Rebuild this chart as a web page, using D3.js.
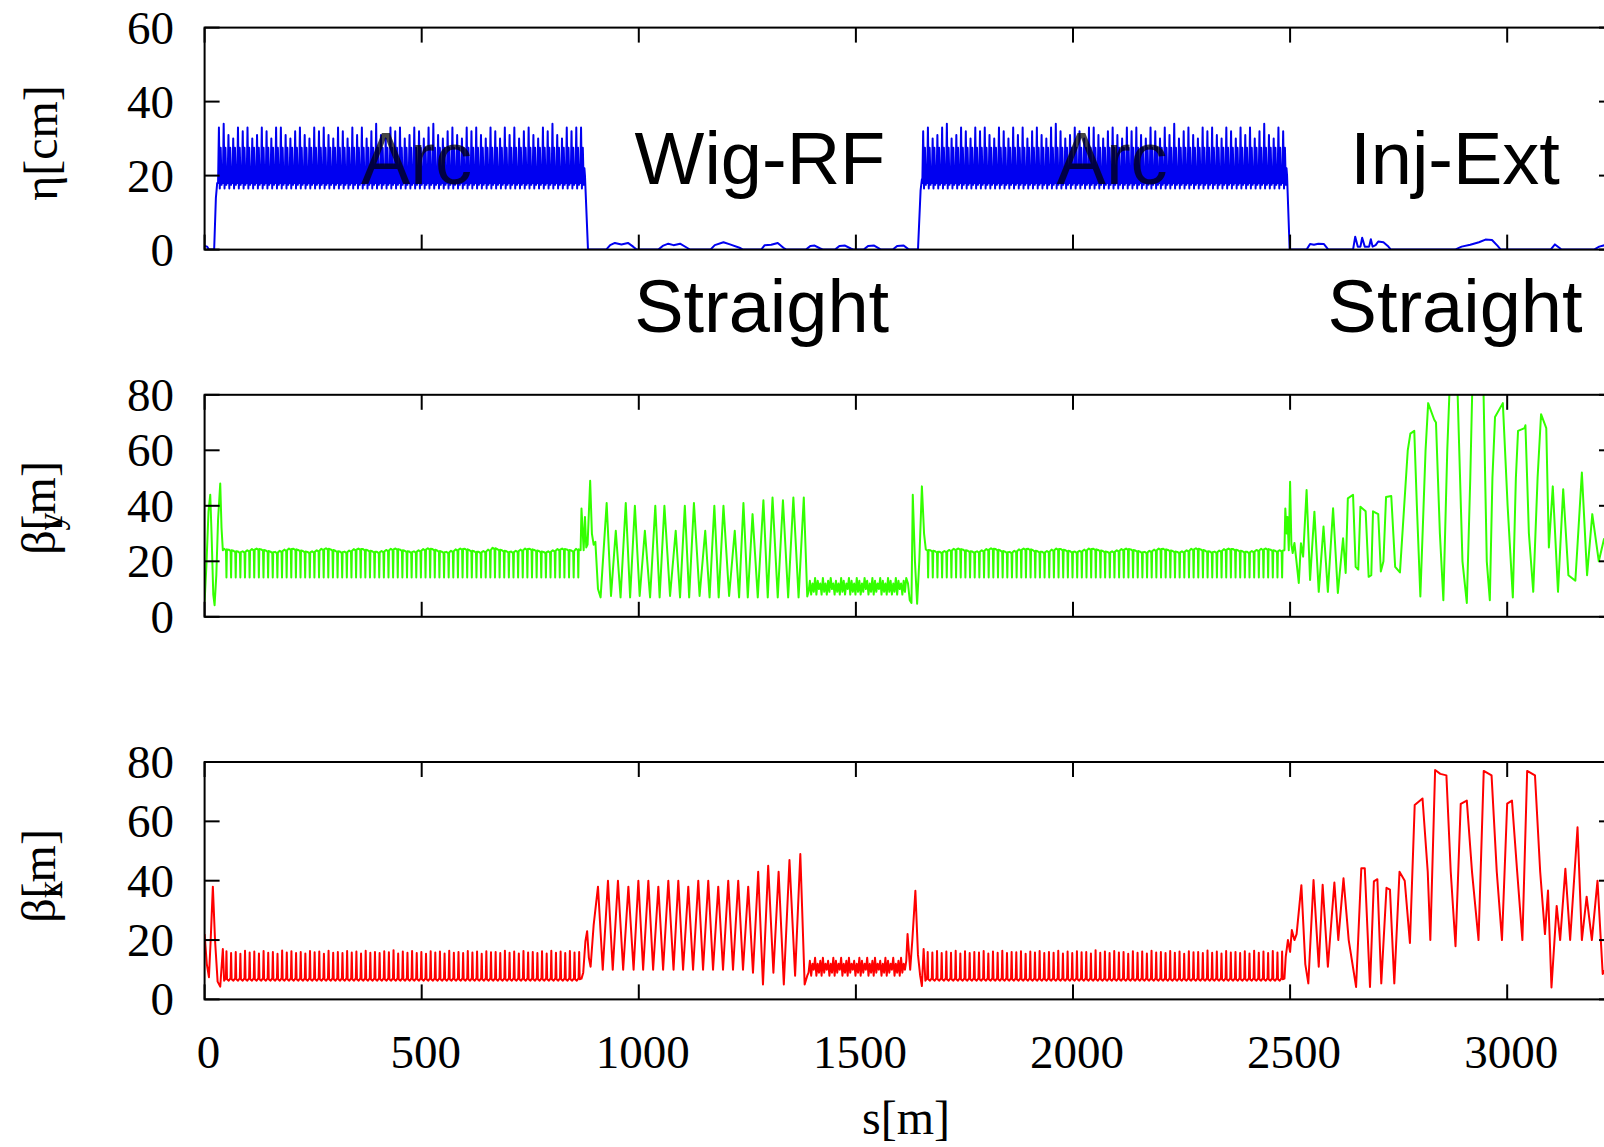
<!DOCTYPE html>
<html>
<head>
<meta charset="utf-8">
<script src="https://cdn.jsdelivr.net/npm/d3@7"></script>
<style>
  html, body { margin: 0; padding: 0; background: #fff; }
  svg { display: block; }
</style>
</head>
<body>
<script>
// ---------------- data: lattice functions along the ring ----------------
const sTicks = [0, 500, 1000, 1500, 2000, 2500, 3000];
const etaTicks = [0, 20, 40, 60];
const betaTicks = [0, 20, 40, 60, 80];

// arc extents [start, end] in metres
const etaArcRange1 = [31, 876], etaArcRange2 = [1653, 2493];
const byArcRange1 = [45, 866], byArcRange2 = [1661, 2487];
const bxArcRange1 = [45, 868], bxArcRange2 = [1660, 2487];

// dispersion peak per arc cell [cm]
const etaArc1Peak = [33,34,31,30,33,32,33,30,31,33, 32,30,33,33,31,30,32,33,31,30,
  33,32,33,31,30,33,32,30,33,31, 33,30,32,34,31,30,33,32,33,30, 31,33,32,30,33,34,31,30,32,33,
  31,30,33,32,33,31,30,33,32,30, 33,31,33,30,32,33,31,30,33,32, 34,31,30,33,32,33,33];
const etaArc2Peak = [32,33,30,31,33,34,30,31,33,32, 30,33,32,33,31,30,33,32,30,33,
  31,33,30,32,33,31,30,33,34,32, 30,31,33,32,30,33,33,31,30,32, 33,31,30,33,32,33,31,30,33,32,
  30,33,31,34,30,32,33,31,30,33, 32,33,31,30,33,32,30,33,31,33, 30,32,34,31,30,33,32];
// dispersion levels inside each cell [low, trough, shoulder, trough, tail]
const etaCellLevels = [18, 16.5, 27.5, 17.5, 22];

// vertical beta plateau per arc cell [m]
const byArc1Top = [24.5,24.2,23.8,23.5,23.6,24.0,24.4,24.6,24.3,23.9, 23.5,23.4,23.8,24.2,24.6,24.5,24.1,23.7,23.4,23.6,
  24.0,24.5,24.7,24.3,23.8,23.5,23.5,23.9,24.4,24.6, 24.4,24.0,23.6,23.4,23.7,24.1,24.5,24.6,24.2,23.8,
  23.5,23.6,24.0,24.4,24.7,24.4,23.9,23.5,23.4,23.8, 24.3,24.6,24.5,24.0,23.6,23.4,23.7,24.2,24.9,24.4,
  24.0,23.6,23.5,23.8,24.2,24.6,24.5,24.1,23.7,23.4, 23.6,24.0,24.4,24.6,24.3,23.9,24.5];
const byArc2Top = [24.3,24.0,23.6,23.4,23.7,24.1,24.5,24.6,24.2,23.8, 23.5,23.6,24.0,24.4,24.7,24.4,23.9,23.5,23.4,23.8,
  24.3,24.6,24.5,24.0,23.6,23.4,23.7,24.2,24.6,24.4, 24.0,23.6,23.5,23.8,24.2,24.6,24.5,24.1,23.7,23.4,
  23.6,24.0,24.4,24.6,24.3,23.9,23.5,23.4,23.8,24.2, 24.6,24.5,24.1,23.7,23.4,23.6,24.0,24.5,24.7,24.3,
  23.8,23.5,23.5,23.9,24.4,24.6,24.4,24.0,23.6,23.4, 23.7,24.1,24.5,24.6,24.2,23.8,24.0];
const byCellDip = 14.2;

// horizontal beta peak per arc cell [m]
const bxArc1Peak = [16.2,15.6,16.0,15.4,16.4,15.8,16.1,15.5,16.3,15.7, 16.0,15.4,16.5,15.8,16.2,15.6,16.0,15.5,16.3,15.9,
  16.1,15.4,16.4,15.7,16.0,15.6,16.3,15.8,16.1,15.5, 16.4,15.7,16.0,15.6,16.2,15.9,16.6,15.5,16.1,15.7,
  16.3,15.6,16.0,15.4,16.2,15.8,16.1,15.5,16.4,15.7, 16.0,15.6,16.3,15.8,16.1,15.4,16.2,15.9,16.0,15.6,
  16.4,15.7,16.1,15.5,16.3,15.8,16.0,15.6,16.2,15.5, 16.4,15.7,16.1,15.6,16.3,15.8,16.0];
const bxArc2Peak = [16.0,15.8,16.3,15.6,16.1,15.7,16.4,15.5,16.2,15.6, 16.0,15.8,16.3,15.5,16.1,15.7,16.4,15.6,16.0,15.9,
  16.2,15.4,16.1,15.8,16.3,15.6,16.0,15.7,16.4,15.5, 16.1,15.6,16.2,15.9,16.0,15.5,16.6,15.7,16.1,15.6,
  16.3,15.8,16.0,15.4,16.2,15.7,16.1,15.5,16.4,15.8, 16.0,15.6,16.3,15.7,16.1,15.4,16.2,15.9,16.0,15.6,
  16.5,15.7,16.1,15.5,16.3,15.8,16.0,15.6,16.2,15.5, 16.4,15.7,16.1,15.6,16.3,15.8,16.1];
const bxCellLevels = [6.3, 7.2, 6.8];

// straight sections: [s, value]
const etaEntry = [[0,1.0],[6,0.8],[10,0],[22,0],[26,14],[29,18]];
const etaWigRF = [[876,20],[883,0],[925,0],[934,1.2],[945,1.8],[960,1.4],[975,1.8],[987,0.8],[995,0],
  [1045,0],[1055,1.0],[1068,1.6],[1080,1.2],[1095,1.6],[1111,0.5],[1118,0],
  [1165,0],[1175,1.2],[1195,2.0],[1210,1.4],[1232,0.5],[1240,0],
  [1282,0],[1290,1.2],[1305,1.3],[1320,1.8],[1333,0.5],[1340,0],
  [1385,0],[1395,1.0],[1405,1.1],[1418,0.3],[1425,0],[1452,0],[1462,1.0],[1475,1.1],[1488,0.3],[1495,0],
  [1518,0],[1528,1.0],[1542,1.1],[1555,0.2],[1560,0],[1585,0],[1595,1.0],[1610,1.1],[1620,0.2],[1625,0],
  [1643,0],[1649,16],[1652,19]];
const etaInjExt = [[2493,20],[2499,0],[2538,0],[2546,1.5],[2555,1.3],[2565,1.6],[2578,1.5],[2588,0],
  [2645,0],[2650,3.5],[2656,0.8],[2662,0.8],[2666,3.2],[2672,0.8],[2682,0.8],[2686,2.8],[2690,0.8],
  [2697,1.2],[2703,2.2],[2715,2.0],[2725,1.0],[2732,0],[2880,0],[2895,0.8],[2915,1.3],[2935,2.0],
  [2950,2.7],[2965,2.6],[2978,1.0],[2985,0],[3100,0],[3110,1.4],[3120,0.5],[3125,0],[3200,0],
  [3212,0.8],[3225,1.2],[3246,1.5]];

const byEntry = [[0,5.4],[4,18],[9,38],[13,44],[16,30],[20,8],[23,4.2],[27,15],[31,35],[36,48],[39,32],[42,24]];
const byWigRF = [[866,24],[868,39],[871,30],[873,24],[876,36],[879,25],[882,26],[888,49],[892,30],[896,26],
  [900,27],[906,10],[912,7],[926,41],[936,7.5],[947,31],[958,7],[970,41],[980,7],[991,40],[1002,7.5],
  [1014,31],[1026,7],[1038,40],[1048,7],[1059,40],[1072,7.5],[1085,31],[1095,7],[1106,40],[1116,7],
  [1127,41],[1140,7.5],[1153,31],[1163,7],[1174,40],[1184,7],[1195,40],[1208,7.5],[1221,31],[1231,7],
  [1241,41],[1251,7],[1262,37],[1274,7],[1287,42],[1297,7],[1308,43],[1320,7],[1332,42],[1344,7],
  [1356,43],[1368,7],[1380,43],[1388,7.3]];
const byWigBandStart = 1391, byWigBandStep = 3;
const byWigBand = [9,13,8,12,9,14,8,13,10,12, 8,14,9,12,8,13,9,14,10,12, 8,13,9,12,8,14,9,13,8,12,
  10,14,8,13,9,12,8,14,9,13, 8,12,9,14,10,13,8,12,9,14, 8,13,9,12,10,14,8,13,9,12,
  8,14,9,13,8,12,9,14,8,13, 10,12,8,13,9,14];
const byArc2Entry = [[1620,12],[1624,6],[1628,5],[1631,44],[1636,20],[1641,4.7],[1646,20],[1652,47],[1657,30]];
const byInjExt = [[2487,24],[2489,39],[2492,30],[2494,36],[2497,24],[2500,48.7],[2503,26],[2506,23],
  [2510,26.6],[2514,21],[2520,12.2],[2525,26.5],[2530,21.7],[2538,45.7],[2546,13.3],[2556,37.9],
  [2566,9],[2577,32.5],[2587,9],[2599,39.1],[2610,8.6],[2622,28.3],[2628,15.8],[2633,42.7],[2645,44],
  [2651,18],[2657,17],[2662,39.7],[2674,38],[2681,14.4],[2687,15],[2691,38],[2703,37],[2709,16.3],
  [2715,20],[2721,43.2],[2733,43.5],[2742,18],[2753,16],[2771,60],[2777,66],[2786,67],[2792,40],
  [2800,7.3],[2812,60],[2818,77],[2832,71],[2836,70],[2845,30],[2853,6],[2862,60],[2868,85],[2885,85],
  [2897,20],[2907,5],[2915,50],[2920,85],[2945,85],[2953,20],[2960,6],[2966,50],[2972,72],[2990,77],
  [3001,40],[3013,7],[3020,50],[3025,67],[3040,68],[3042,69],[3050,30],[3060,9],[3070,50],[3078,73],
  [3090,68],[3096,25],[3105,47],[3117,9],[3129,46],[3141,15],[3157,13],[3172,52],[3184,15],[3196,37],
  [3211,20],[3223,28],[3246,20]];

const bxEntry = [[0,22],[5,12],[10,7.5],[14,20],[19,38],[24,20],[30,6],[36,4.3],[42,17]];
const bxWigRF = [[868,7],[872,9],[877,19.5],[881,23],[885,14],[889,11],[896,25],[906,38],[917,10],
  [929,40],[940,10],[952,40],[964,10],[976,38],[988,10],[999,40],[1010,10],[1022,40],[1033,10],
  [1045,38],[1056,10],[1068,40],[1080,10],[1091,40],[1102,10],[1114,38],[1125,10],[1137,40],[1148,10],
  [1160,40],[1171,10],[1183,38],[1194,10],[1206,40],[1217,10],[1229,40],[1240,10],[1252,38],[1263,9],
  [1275,43],[1286,5],[1298,45],[1310,9],[1322,43],[1334,5],[1347,47],[1360,8],[1372,49],[1382,5],[1388,8]];
const bxWigBandStart = 1391, bxWigBandStep = 3;
const bxWigBand = [9,13,8,12,10,14,8,12,9,13, 8,14,9,12,10,13,8,12,9,14, 8,13,9,12,10,14,8,12,9,13,
  8,14,9,12,10,13,8,12,9,14, 8,13,9,12,10,14,8,12,9,13, 8,14,9,12,10,13,8,12,9,14,
  8,13,9,12,10,14,8,12,9,13, 8,14,9,12,10,13];
const bxArc2Entry = [[1619,22],[1625,10],[1630,20],[1637,36.6],[1643,15],[1648,8],[1652,4.5],[1656,17]];
const bxInjExt = [[2487,7],[2490,14.4],[2495,20],[2500,16],[2504,23.4],[2510,20],[2515,22],[2526,38.5],
  [2535,11.9],[2542,5.4],[2554,40.2],[2566,11],[2575,38.6],[2587,11],[2602,39.4],[2611,20],[2623,40.8],
  [2635,20],[2652,4.2],[2664,44.2],[2672,44.2],[2684,4.2],[2693,39.8],[2701,40.5],[2710,5.4],[2722,37.6],
  [2730,37],[2740,5.4],[2752,43],[2764,40],[2776,19],[2787,65.5],[2805,67.7],[2817,43],[2823,20],
  [2834,77.3],[2846,76],[2860,75.5],[2870,43],[2881,17.9],[2893,65.9],[2907,67],[2919,43],[2934,20],
  [2946,77],[2964,75.5],[2976,43],[2988,20],[3000,66],[3011,67],[3023,43],[3035,20],[3046,77],
  [3064,75.5],[3076,43],[3087,22],[3094,36.7],[3102,4],[3114,31.5],[3122,20],[3134,44],[3145,20],
  [3162,58],[3172,20],[3183,34.6],[3195,20],[3208,40],[3220,8.6],[3246,15]];

// ---------------- assembling the polylines ----------------
function arcCells(range, values, shape) {
  const [a, b] = range, L = (b - a) / values.length;
  return values.flatMap((v, i) => shape(a + i * L, L, v));
}
const etaCell = (s, L, p) => [[s, etaCellLevels[0]], [s + 0.18 * L, p], [s + 0.36 * L, etaCellLevels[1]],
  [s + 0.55 * L, etaCellLevels[2]], [s + 0.74 * L, etaCellLevels[3]], [s + 0.88 * L, etaCellLevels[4]]];
const byCell = (s, L, top) => [[s, top], [s + 0.4 * L, top - 0.5], [s + 0.5 * L, byCellDip], [s + 0.6 * L, top - 0.2]];
const bxCell = (s, L, p) => [[s, bxCellLevels[0]], [s + 0.38 * L, bxCellLevels[1]], [s + 0.5 * L, p], [s + 0.62 * L, bxCellLevels[2]]];
const band = (start, step, vals) => vals.map((v, i) => [start + i * step, v]);

const etaSeries = [].concat(etaEntry, arcCells(etaArcRange1, etaArc1Peak, etaCell), etaWigRF,
  arcCells(etaArcRange2, etaArc2Peak, etaCell), etaInjExt);
const bySeries = [].concat(byEntry, arcCells(byArcRange1, byArc1Top, byCell), byWigRF,
  band(byWigBandStart, byWigBandStep, byWigBand), byArc2Entry,
  arcCells(byArcRange2, byArc2Top, byCell), byInjExt);
const bxSeries = [].concat(bxEntry, arcCells(bxArcRange1, bxArc1Peak, bxCell), bxWigRF,
  band(bxWigBandStart, bxWigBandStep, bxWigBand), bxArc2Entry,
  arcCells(bxArcRange2, bxArc2Peak, bxCell), bxInjExt);

// ---------------- drawing ----------------
const W = 1604, H = 1147;
const svg = d3.select("body").append("svg").attr("width", W).attr("height", H)
  .style("font-family", "'Liberation Serif', 'Times New Roman', serif");

const x = d3.scaleLinear().domain([0, 3246]).range([204.6, 1614]);

const panels = [
  { id: "eta", top: 27.6, bottom: 249.6, max: 60, ticks: etaTicks, color: "#0000f0", width: 2.0, data: etaSeries },
  { id: "by",  top: 394.8, bottom: 616.8, max: 80, ticks: betaTicks, color: "#33ff00", width: 2.0, data: bySeries },
  { id: "bx",  top: 762, bottom: 999.4, max: 80, ticks: betaTicks, color: "#ff0000", width: 2.0, data: bxSeries }
];

const TICK = 15;
const sansFont = "'Liberation Sans', Arial, Helvetica, sans-serif";

panels.forEach(p => {
  const y = d3.scaleLinear().domain([0, p.max]).range([p.bottom, p.top]);
  const g = svg.append("g");

  g.append("clipPath").attr("id", "clip-" + p.id).append("rect")
    .attr("x", x.range()[0]).attr("y", p.top)
    .attr("width", x.range()[1] - x.range()[0]).attr("height", p.bottom - p.top);

  const line = d3.line().x(d => x(d[0])).y(d => y(d[1]));
  g.append("path").datum(p.data)
    .attr("clip-path", `url(#clip-${p.id})`)
    .attr("fill", "none").attr("stroke", p.color).attr("stroke-width", p.width)
    .attr("stroke-linejoin", "round")
    .attr("d", line);

  // frame
  g.append("rect").attr("x", x.range()[0]).attr("y", p.top)
    .attr("width", x.range()[1] - x.range()[0]).attr("height", p.bottom - p.top)
    .attr("fill", "none").attr("stroke", "#000").attr("stroke-width", 2);

  // inward ticks on all four sides
  const ticks = g.append("g").attr("stroke", "#000").attr("stroke-width", 2);
  sTicks.forEach(t => {
    ticks.append("line").attr("x1", x(t)).attr("x2", x(t)).attr("y1", p.bottom).attr("y2", p.bottom - TICK);
    ticks.append("line").attr("x1", x(t)).attr("x2", x(t)).attr("y1", p.top).attr("y2", p.top + TICK);
  });
  p.ticks.forEach(t => {
    ticks.append("line").attr("x1", x.range()[0]).attr("x2", x.range()[0] + TICK).attr("y1", y(t)).attr("y2", y(t));
    ticks.append("line").attr("x1", x.range()[1]).attr("x2", x.range()[1] - TICK).attr("y1", y(t)).attr("y2", y(t));
  });

  // y tick labels
  g.append("g").selectAll("text").data(p.ticks).join("text")
    .attr("x", 174).attr("y", d => y(d) + 16)
    .attr("text-anchor", "end").style("font-size", "47px").attr("fill", "#000")
    .text(d => d);
});

// section names; the arc names sit on the dispersion band and let it show through
const sectionLabels = [
  { text: "Arc", s: 488, y: 184, opacity: 0.72 },
  { text: "Wig-RF", s: 1279, y: 184, opacity: 1 },
  { text: "Straight", s: 1283, y: 332, opacity: 1 },
  { text: "Arc", s: 2090, y: 184, opacity: 0.72 },
  { text: "Inj-Ext", s: 2880, y: 184, opacity: 1 },
  { text: "Straight", s: 2880, y: 332, opacity: 1 }
];
svg.append("g").selectAll("text").data(sectionLabels).join("text")
  .attr("x", d => x(d.s)).attr("y", d => d.y)
  .attr("text-anchor", "middle")
  .style("font-family", sansFont).style("font-size", "74px").attr("fill", "#000")
  .attr("fill-opacity", d => d.opacity)
  .text(d => d.text);

// s tick labels under the lowest panel
svg.append("g").selectAll("text").data(sTicks).join("text")
  .attr("x", d => x(d) + 4).attr("y", 1068)
  .attr("text-anchor", "middle").style("font-size", "47px").attr("fill", "#000")
  .text(d => d);

svg.append("text").attr("x", 906).attr("y", 1134).attr("text-anchor", "middle")
  .style("font-size", "48px").attr("fill", "#000").text("s[m]");

// rotated axis titles
function yTitle(cx, cy, parts) {
  const t = svg.append("text")
    .attr("transform", `translate(${cx},${cy}) rotate(-90)`)
    .attr("text-anchor", "middle").attr("dominant-baseline", "central")
    .style("font-size", "48px").attr("fill", "#000");
  parts(t);
}
yTitle(40, 143, t => t.text("η[cm]"));
yTitle(38, 508, t => {
  t.append("tspan").text("β");
  t.append("tspan").attr("dy", 12).style("font-size", "36px").text("y");
  t.append("tspan").attr("dx", -18).attr("dy", -12).text("[m]");
});
yTitle(38, 876, t => {
  t.append("tspan").text("β");
  t.append("tspan").attr("dy", 12).style("font-size", "36px").text("x");
  t.append("tspan").attr("dx", -18).attr("dy", -12).text("[m]");
});
</script>
</body>
</html>
